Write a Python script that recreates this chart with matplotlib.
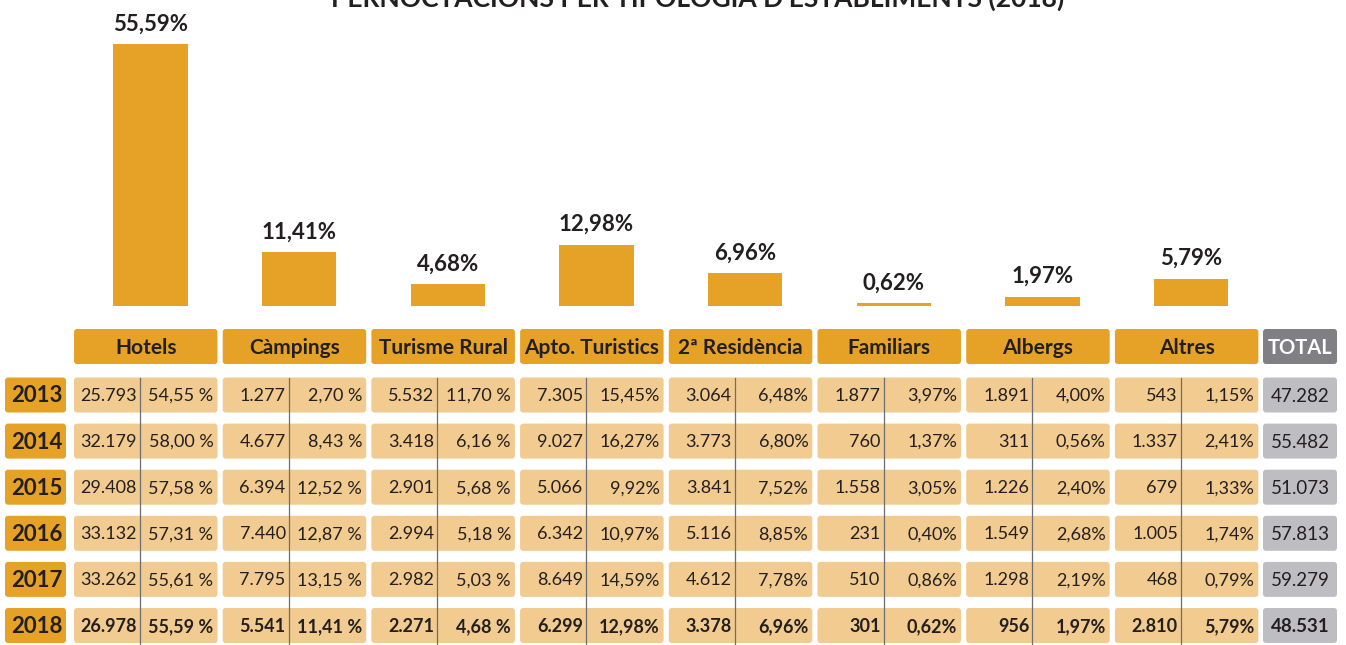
import matplotlib.pyplot as plt
from matplotlib.patches import FancyBboxPatch
import numpy as np

plt.rcParams['font.family'] = ['Lato', 'DejaVu Sans']

# data
categories = ['Hotels', 'Càmpings', 'Turisme Rural', 'Apto. Turistics',
              '2ª Residència', 'Familiars', 'Albergs', 'Altres']
years = [2013, 2014, 2015, 2016, 2017, 2018]
counts = [
    [25793, 1277, 5532, 7305, 3064, 1877, 1891, 543],
    [32179, 4677, 3418, 9027, 3773, 760, 311, 1337],
    [29408, 6394, 2901, 5066, 3841, 1558, 1226, 679],
    [33132, 7440, 2994, 6342, 5116, 231, 1549, 1005],
    [33262, 7795, 2982, 8649, 4612, 510, 1298, 468],
    [26978, 5541, 2271, 6299, 3378, 301, 956, 2810],
]
pcts = [
    [54.55, 2.70, 11.70, 15.45, 6.48, 3.97, 4.00, 1.15],
    [58.00, 8.43, 6.16, 16.27, 6.80, 1.37, 0.56, 2.41],
    [57.58, 12.52, 5.68, 9.92, 7.52, 3.05, 2.40, 1.33],
    [57.31, 12.87, 5.18, 10.97, 8.85, 0.40, 2.68, 1.74],
    [55.61, 13.15, 5.03, 14.59, 7.78, 0.86, 2.19, 0.79],
    [55.59, 11.41, 4.68, 12.98, 6.96, 0.62, 1.97, 5.79],
]
totals = [47282, 55482, 51073, 57813, 59279, 48531]
title = "PERNOCTACIONS PER TIPOLOGIA D'ESTABLIMENTS (2018)"

ORANGE = '#E5A226'
LIGHT = '#F1CB8F'
GREYHEAD = '#808084'
GREYCELL = '#BEBEC2'
TXT = '#231F20'

W, H = 1346, 645
fig = plt.figure(figsize=(W / 100, H / 100), dpi=100)

# table layer in pixel coordinates
ax = fig.add_axes([0, 0, 1, 1])
ax.set_xlim(0, W)
ax.set_ylim(H, 0)
ax.axis('off')

left0, pitch, cw = 74, 148.7, 143.5
split = 66
ch = 35
head_y = 346.5
row_y = [395 + i * 46.1 for i in range(len(years))]
tot_x, tot_w = 1263, 74


def box(x, yc, w, color):
    ax.add_patch(FancyBboxPatch((x + 3, yc - ch / 2 + 3), w - 6, ch - 6,
                                boxstyle='round,pad=3', fc=color, ec='none'))


def fmt_int(v):
    return f'{v:,}'.replace(',', '.')


def fmt_pct(v, spaced):
    s = f'{v:.2f}'.replace('.', ',')
    return s + (' %' if spaced else '%')


for j, cat in enumerate(categories):
    x = left0 + j * pitch
    box(x, head_y, cw, ORANGE)
    ax.text(x + cw / 2, head_y + 1, cat, ha='center', va='center',
            fontsize=15, fontweight='bold', color=TXT)
box(tot_x, head_y, tot_w, GREYHEAD)
ax.text(tot_x + tot_w / 2, head_y + 1, 'TOTAL', ha='center', va='center',
        fontsize=14.5, fontweight='bold', color='white')

for i, yr in enumerate(years):
    yc = row_y[i]
    bold = 'bold' if i == len(years) - 1 else 'normal'
    box(5, yc, 61, ORANGE)
    ax.text(37, yc + 1, str(yr), ha='center', va='center',
            fontsize=16, fontweight='bold', color=TXT)
    for j in range(len(categories)):
        x = left0 + j * pitch
        box(x, yc, cw, LIGHT)
        ax.text(x + split - 3, yc + 1, fmt_int(counts[i][j]), ha='right',
                va='center', fontsize=13, fontweight=bold, color=TXT)
        ax.text(x + cw - 4, yc + 1, fmt_pct(pcts[i][j], j < 3), ha='right',
                va='center', fontsize=13, fontweight=bold, color=TXT)
    box(tot_x, yc, tot_w, GREYCELL)
    ax.text(tot_x + tot_w / 2, yc + 1, fmt_int(totals[i]), ha='center',
            va='center', fontsize=13.5, fontweight=bold, color=TXT)

for j in range(len(categories)):
    xd = left0 + j * pitch + split
    ax.plot([xd, xd], [row_y[0] - ch / 2, H], color='#6D6E71', lw=0.9)

# title (cut by the top edge as in the source)
fig.text(0.518, 1 - 7 / H, title, ha='center', va='baseline',
         fontsize=19, fontweight='bold', color=TXT)

# bar chart of 2018 shares
bar_bottom = 306
bax = fig.add_axes([(left0 + 2) / W, 1 - bar_bottom / H,
                    pitch * len(categories) / W, bar_bottom / H])
share = pcts[-1]
xs = np.arange(len(categories))
bars = bax.bar(xs, share, width=0.5, color=ORANGE)
bax.set_xlim(-0.5, len(categories) - 0.5)
bax.set_ylim(0, 306 / 262 * max(share))
bax.axis('off')
for b, v in zip(bars, share):
    bax.annotate(f'{v:.2f}%'.replace('.', ','),
                 (b.get_x() + b.get_width() / 2, b.get_height()),
                 xytext=(0, 7), textcoords='offset points', ha='center',
                 va='bottom', fontsize=16, fontweight='bold', color=TXT)

fig.savefig('out.png', dpi=100)
